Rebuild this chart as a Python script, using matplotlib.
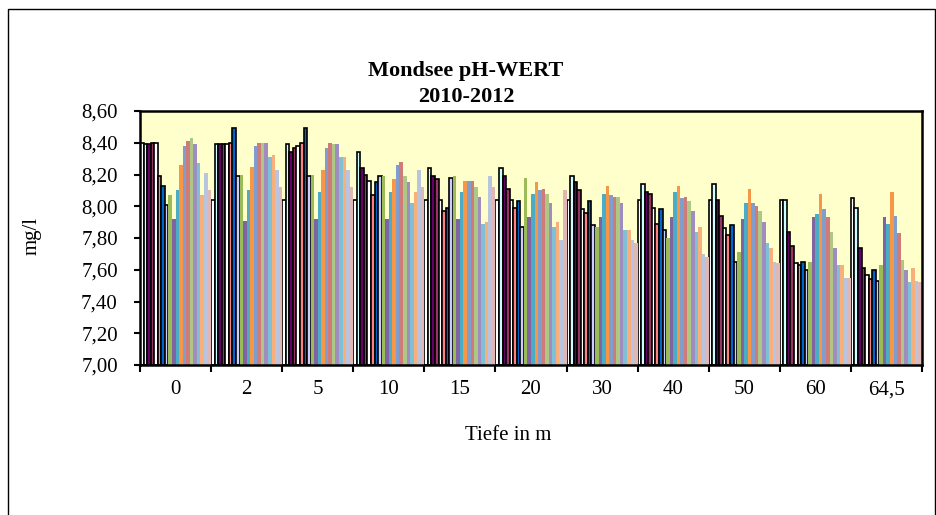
import matplotlib
matplotlib.use("Agg")
import matplotlib.pyplot as plt
from matplotlib.ticker import FixedLocator, FuncFormatter
from matplotlib.patches import Rectangle

depths = ["0", "2", "5", "10", "15", "20", "30", "40", "50", "60", "64,5"]

m01 = [8.40, 8.04, 8.04, 8.04, 8.04, 8.04, 8.04, 8.04, 8.04, 8.04, 8.05]
m02 = [8.39, 8.39, 8.39, 8.34, 8.24, 8.24, 8.19, 8.14, 8.14, 8.04, 7.99]
m03 = [8.39, 8.39, 8.34, 8.24, 8.19, 8.19, 8.15, 8.09, 8.04, 7.84, 7.74]
m04 = [8.40, 8.39, 8.37, 8.20, 8.17, 8.11, 8.10, 8.08, 7.94, 7.75, 7.61]
m05 = [8.40, 8.39, 8.38, 8.16, 8.04, 8.04, 7.98, 7.99, 7.86, 7.64, 7.57]
m06 = [8.19, 8.40, 8.40, 8.07, 7.97, 7.99, 7.96, 7.89, 7.82, 7.63, 7.54]
m07 = [8.13, 8.49, 8.49, 8.15, 7.99, 8.03, 8.03, 7.98, 7.88, 7.65, 7.60]
m08 = [8.01, 8.19, 8.19, 8.19, 8.18, 7.87, 7.88, 7.85, 7.65, 7.60, 7.53]
m09 = [8.07, 8.20, 8.20, 8.19, 8.19, 8.18, 7.87, 7.80, 7.71, 7.65, 7.63]
m10 = [7.92, 7.91, 7.92, 7.92, 7.92, 7.93, 7.93, 7.93, 7.92, 7.93, 7.93]
m11 = [8.10, 8.10, 8.09, 8.09, 8.09, 8.08, 8.08, 8.09, 8.02, 7.95, 7.89]
m12 = [8.26, 8.25, 8.23, 8.17, 8.16, 8.15, 8.13, 8.13, 8.11, 8.08, 8.09]
m13 = [8.38, 8.38, 8.37, 8.26, 8.16, 8.10, 8.07, 8.05, 8.02, 7.98, 7.94]
m14 = [8.41, 8.40, 8.40, 8.28, 8.16, 8.11, 8.06, 8.06, 8.00, 7.93, 7.83]
m15 = [8.43, 8.40, 8.39, 8.19, 8.12, 8.08, 8.06, 8.03, 7.97, 7.84, 7.66]
m16 = [8.39, 8.40, 8.39, 8.15, 8.06, 8.02, 8.02, 7.97, 7.90, 7.74, 7.60]
m17 = [8.27, 8.31, 8.31, 8.02, 7.89, 7.87, 7.85, 7.84, 7.77, 7.63, 7.52]
m18 = [8.07, 8.32, 8.31, 8.09, 7.90, 7.90, 7.85, 7.87, 7.74, 7.63, 7.61]
m19 = [8.21, 8.23, 8.23, 8.23, 8.19, 7.79, 7.79, 7.70, 7.65, 7.55, 7.53]
m20 = [8.10, 8.12, 8.12, 8.12, 8.12, 8.10, 7.77, 7.68, 7.64, 7.55, 7.52]

series = [m01, m02, m03, m04, m05, m06, m07, m08, m09, m10,
          m11, m12, m13, m14, m15, m16, m17, m18, m19, m20]

outlined_colors = ["#FFFFFF", "#CCFFFF", "#660066", "#993366",
                   "#FFFFFF", "#FF8080", "#0066CC", "#CCCCFF"]
plain_colors = ["#9BBB59", "#8064A2", "#4BACC6", "#F79646", "#7F9DCD", "#CF7B79",
                "#AFC784", "#9F8DC0", "#7FC0D6", "#F9AF7C", "#B9C5DF", "#DFB7B7"]
colors = outlined_colors + plain_colors

yticks = [7.0, 7.2, 7.4, 7.6, 7.8, 8.0, 8.2, 8.4, 8.6]

W, H = 937, 515
fig = plt.figure(figsize=(W / 100, H / 100), dpi=100)
fig.patch.set_facecolor("white")

serif = ["Liberation Serif", "DejaVu Serif"]

# chart area border
fig.patches.append(Rectangle((8.5 / W, -0.1), (935 - 8.5) / W, 1.1 - 8.5 / H,
                             transform=fig.transFigure, fill=False,
                             edgecolor="black", linewidth=1.0))

left, right, top, bottom = 140, 922, 111, 365
ax = fig.add_axes([left / W, 1 - bottom / H, (right - left) / W, (bottom - top) / H])
ax.set_facecolor("#FFFFCC")

n = len(series)
bw = 1.0 / n
for j, vals in enumerate(series):
    xs = [i + j * bw for i in range(len(depths))]
    heights = [v - 7.0 for v in vals]
    if j < len(outlined_colors):
        ax.bar(xs, heights, width=bw, bottom=7.0, align="edge", color=colors[j],
               edgecolor="black", linewidth=1.2, zorder=2)
    else:
        ax.bar(xs, heights, width=bw, bottom=7.0, align="edge", color=colors[j],
               edgecolor="none", linewidth=0, zorder=2)

ax.set_xlim(0, len(depths))
ax.set_ylim(7.0, 8.6)
ax.set_yticks(yticks)
ax.yaxis.set_major_formatter(FuncFormatter(lambda v, p: f"{v:.2f}".replace(".", ",")))
ax.set_xticks([i + 0.5 for i in range(len(depths))])
ax.set_xticklabels(depths)
ax.xaxis.set_minor_locator(FixedLocator(list(range(len(depths) + 1))))
ax.tick_params(axis="x", which="major", length=0, pad=11, labelsize=15)
ax.tick_params(axis="x", which="minor", length=5, width=1.5, direction="out")
ax.tick_params(axis="y", which="major", length=4, width=1.5, direction="out", pad=12, labelsize=15)
for lab in ax.get_xticklabels() + ax.get_yticklabels():
    lab.set_fontfamily(serif)
for sp in ax.spines.values():
    sp.set_linewidth(1.8)
    sp.set_color("black")
    sp.set_zorder(5)

fig.text(466 / W, 1 - 71 / H, "Mondsee pH-WERT", ha="center", va="center",
         fontsize=16, fontweight="bold", family=serif)
fig.text(466 / W, 1 - 97 / H, "2010-2012", ha="center", va="center",
         fontsize=16, fontweight="bold", family=serif)
fig.text(32 / W, 1 - 236 / H, "mg/l", ha="center", va="center", rotation=90,
         fontsize=15, family=serif)
fig.text(508 / W, 1 - 435 / H, "Tiefe in m", ha="center", va="center",
         fontsize=15, family=serif)

fig.savefig("out.png", dpi=100, facecolor="white")
